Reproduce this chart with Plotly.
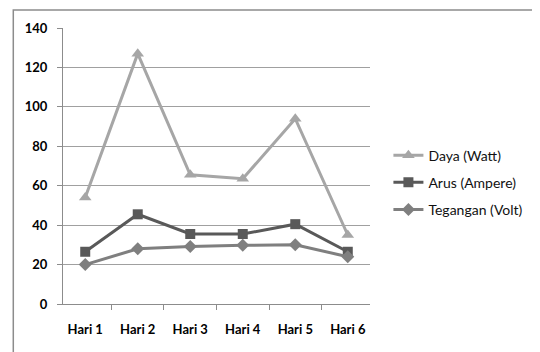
import plotly.graph_objects as go

categories = ["Hari 1", "Hari 2", "Hari 3", "Hari 4", "Hari 5", "Hari 6"]
daya = [54, 127, 65.5, 63.5, 94, 35]
arus = [26.5, 45.5, 35.5, 35.5, 40.5, 26.5]
tegangan = [20, 28, 29.2, 29.8, 30, 24]
y_ticks = [0, 20, 40, 60, 80, 100, 120, 140]

series = [
    ("Daya (Watt)", daya, "#A6A6A6", "triangle-up", 11),
    ("Arus (Ampere)", arus, "#595959", "square", 10),
    ("Tegangan (Volt)", tegangan, "#7F7F7F", "diamond", 10),
]

fig = go.Figure()
for name, vals, color, sym, size in series:
    fig.add_trace(go.Scatter(
        x=categories, y=vals, name=name, mode="lines+markers",
        line=dict(color=color, width=3),
        marker=dict(symbol=sym, size=size, color=color),
        legendgroup=name,
    ))

font_family = "Lato"
# page body has an 8px margin, so the figure is offset by (8, 8)
OFF = 8
W, H = 540 - OFF, 352 - OFF
L, T, R, B = 63 - OFF, 28 - OFF, 378 - OFF, 304 - OFF
PW, PH = R - L, B - T
fig.update_layout(
    width=W, height=H,
    margin=dict(l=L, r=W - R, t=T, b=H - B),
    paper_bgcolor="white", plot_bgcolor="white",
    font=dict(family=font_family, size=13, color="#000000"),
    showlegend=True,
    legend=dict(x=1.06, y=0.44, xanchor="left", yanchor="middle",
                font=dict(size=14, color="#111111", family=font_family),
                tracegroupgap=6, traceorder="grouped",
                bgcolor="rgba(0,0,0,0)"),
    xaxis=dict(
        type="category", showline=True, linecolor="#8C8C8C", linewidth=1,
        ticks="outside", tickson="boundaries", ticklen=5, tickcolor="#8C8C8C",
        showgrid=False,
        tickfont=dict(size=13, color="#000000", family=font_family, weight="bold"),
        ticklabelstandoff=13,
    ),
    yaxis=dict(
        range=[0, 140], tickvals=y_ticks, showline=True, linecolor="#8C8C8C",
        linewidth=1, ticks="outside", ticklen=5, tickcolor="#8C8C8C",
        showgrid=True, gridcolor="#A0A0A0", gridwidth=1, zeroline=False,
        tickfont=dict(size=13, color="#000000", family=font_family, weight="bold"),
        ticklabelstandoff=7,
    ),
    shapes=[dict(type="rect", xref="paper", yref="paper",
                 x0=(12 - 63) / PW, x1=(560 - 63) / PW,
                 y0=(304 - 372) / PH, y1=(304 - 10) / PH,
                 line=dict(color="#8C8C8C", width=1.5), layer="below")],
)
fig.write_html("out.html")
